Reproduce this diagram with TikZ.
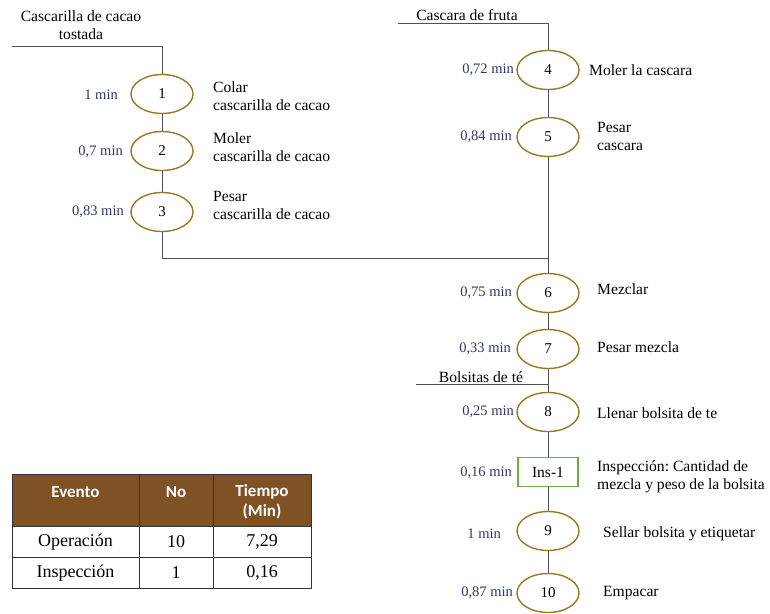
\documentclass[tikz,border=0pt]{standalone}
\usepackage{fontspec}
\setmainfont{Liberation Serif}
\newfontfamily\tnr{Liberation Serif}
\newfontfamily\cabfont{Carlito}
\usetikzlibrary{shapes.geometric,positioning}
\definecolor{oro}{RGB}{152,120,36}
\definecolor{verde}{RGB}{112,173,71}
\definecolor{azul}{RGB}{44,56,104}
\definecolor{cafe}{RGB}{127,82,38}
\definecolor{linea}{RGB}{80,80,80}

\begin{document}
\begin{tikzpicture}[x=1pt,y=-1pt,
 op/.style={ellipse,draw=oro,line width=1.4pt,minimum width=62pt,minimum height=39pt,inner sep=0pt,font=\tnr\fontsize{15}{18}\selectfont},
 ins/.style={rectangle,draw=verde,line width=1.2pt,minimum width=60pt,minimum height=29pt,inner sep=0pt,font=\tnr\fontsize{15.5}{18}\selectfont},
 tmin/.style={anchor=east,inner sep=0pt,text=azul,font=\tnr\fontsize{14.5}{17}\selectfont},
 desc/.style={anchor=west,inner sep=0pt,align=left,font=\tnr\fontsize{15.6}{18}\selectfont},
 entrada/.style={inner sep=0pt,align=center,font=\tnr\fontsize{15.6}{18}\selectfont},
 flujo/.style={draw=linea,line width=0.8pt},
 celda/.style={inner sep=0pt,align=center,font=\tnr\fontsize{18}{20}\selectfont},
 cabeza/.style={inner sep=0pt,align=center,text=white,font=\cabfont\bfseries\fontsize{17}{20}\selectfont}]
 \useasboundingbox (0,0) rectangle (770,613);

 % rama izquierda
 \coordinate (c0) at (12,46);
 \coordinate (c1) at (162,46);
 \node [entrada] (cacao) at (81,25) {Cascarilla de cacao\\tostada};
 \node [op] (op1) at (162,94) {1};
 \node [op] (op2) at (162,151) {2};
 \node [op] (op3) at (162,212) {3};
 \coordinate (j1) at (162,258);

 % rama derecha
 \coordinate (f0) at (398,23);
 \coordinate (f1) at (548,23);
 \node [entrada,anchor=south] (fruta) at (467,21) {Cascara de fruta};
 \node [op] (op4) at (548,70) {4};
 \node [op] (op5) at (548,137) {5};
 \coordinate (j2) at (548,258);
 \node [op] (op6) at (548,293) {6};
 \node [op] (op7) at (548,349) {7};
 \coordinate (b0) at (416,384);
 \coordinate (b1) at (548,384);
 \node [entrada,anchor=south] (bolsa) at (481,383) {Bolsitas de té};
 \node [op] (op8) at (548,412) {8};
 \node [ins] (ins1) at (548,472) {Ins-1};
 \node [op] (op9) at (548,531) {9};
 \node [op] (op10) at (548,593) {10};

 \draw[flujo] (c0) -- (c1) -- (op1);
 \draw[flujo] (op1) -- (op2);
 \draw[flujo] (op2) -- (op3);
 \draw[flujo] (op3) -- (j1) -- (j2);
 \draw[flujo] (f0) -- (f1) -- (op4);
 \draw[flujo] (op4) -- (op5);
 \draw[flujo] (op5) -- (op6);
 \draw[flujo] (op6) -- (op7);
 \draw[flujo] (b0) -- (b1);
 \draw[flujo] (op7) -- (op8);
 \draw[flujo] (op8) -- (ins1);
 \draw[flujo] (ins1) -- (op9);
 \draw[flujo] (op9) -- (op10);

 % tiempos
 \node [tmin] (t1) at (118,95) {1 min};
 \node [tmin] (t2) at (123,152) {0,7 min};
 \node [tmin] (t3) at (124,212) {0,83 min};
 \node [tmin] (t4) at (514,70) {0,72 min};
 \node [tmin] (t5) at (512,137) {0,84 min};
 \node [tmin] (t6) at (512,293) {0,75 min};
 \node [tmin] (t7) at (511,349) {0,33 min};
 \node [tmin] (t8) at (514,412) {0,25 min};
 \node [tmin] (t9) at (512,473) {0,16 min};
 \node [tmin] (t10) at (501,534) {1 min};
 \node [tmin] (t11) at (513,593) {0,87 min};

 % actividades
 \node [desc] (d1) at (213,96) {Colar\\cascarilla de cacao};
 \node [desc] (d2) at (213,147) {Moler\\cascarilla de cacao};
 \node [desc] (d3) at (213,205) {Pesar\\cascarilla de cacao};
 \node [desc] (d4) at (589,70) {Moler la cascara};
 \node [desc] (d5) at (597,136) {Pesar\\cascara};
 \node [desc] (d6) at (597,289) {Mezclar};
 \node [desc] (d7) at (597,347) {Pesar mezcla};
 \node [desc] (d8) at (597,413) {Llenar bolsita de te};
 \node [desc] (d9) at (597,477) {Inspección:\ Cantidad de\\mezcla y peso de la bolsita};
 \node [desc] (d10) at (603,534) {Sellar bolsita y etiquetar};
 \node [desc] (d11) at (603,593) {Empacar};

 % tabla resumen
 \fill[cafe] (12,474) rectangle (311,526);
 \draw[black!80,line width=1pt] (12,474) rectangle (311,588);
 \draw[black!80,line width=1pt] (12,526) -- (311,526);
 \draw[black!80,line width=1pt] (12,557) -- (311,557);
 \draw[black!80,line width=1pt] (139,474) -- (139,588);
 \draw[black!80,line width=1pt] (213,474) -- (213,588);
 \node [cabeza] (h1) at (75.5,492) {Evento};
 \node [cabeza] (h2) at (176,492) {No};
 \node [cabeza] (h3) at (262,502) {Tiempo\\(Min)};
 \node [celda] (r11) at (75.5,542) {Operación};
 \node [celda] (r12) at (176,542) {10};
 \node [celda] (r13) at (262,542) {7,29};
 \node [celda] (r21) at (75.5,573) {Inspección};
 \node [celda] (r22) at (176,573) {1};
 \node [celda] (r23) at (262,573) {0,16};
\end{tikzpicture}
\end{document}
